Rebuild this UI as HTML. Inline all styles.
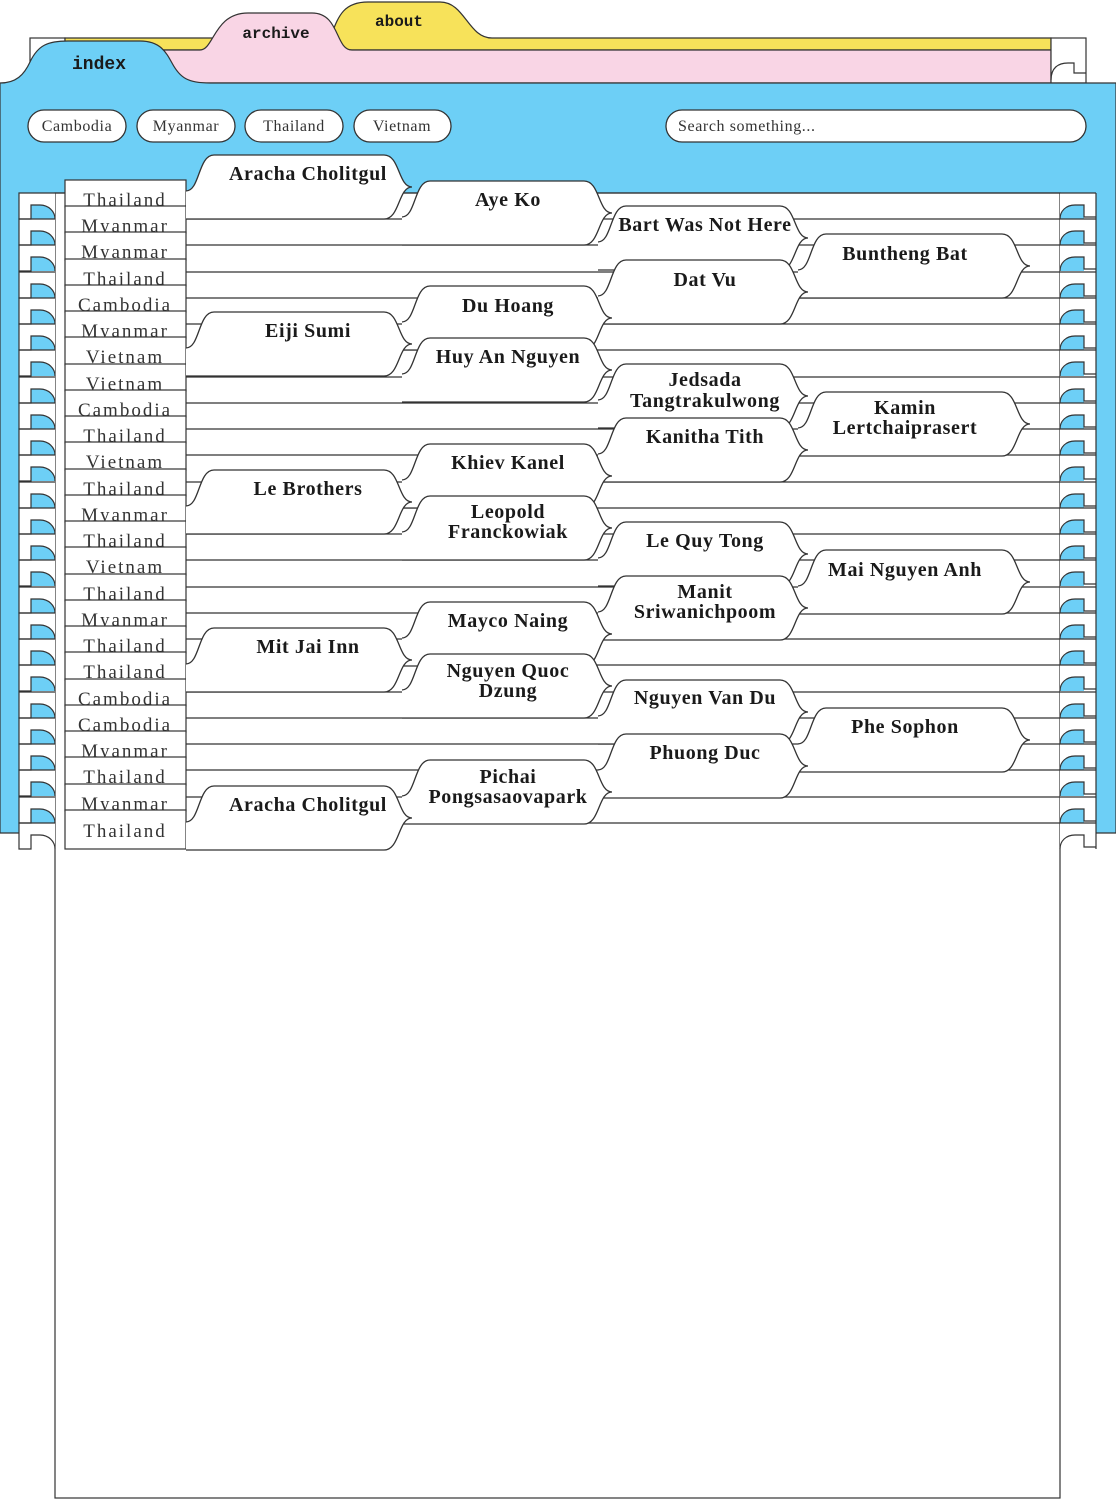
<!DOCTYPE html>
<html><head><meta charset="utf-8"><style>
html,body{margin:0;padding:0;background:#fff;}
svg{display:block;}
.n{font-family:"Liberation Serif",serif;font-weight:bold;font-size:20px;fill:#1a1a1a;text-anchor:middle;letter-spacing:0.6px;}
.c{font-family:"Liberation Serif",serif;font-size:19px;fill:#333;text-anchor:middle;letter-spacing:2px;}
.p{font-family:"Liberation Serif",serif;font-size:16px;fill:#333;text-anchor:middle;letter-spacing:0.6px;}
.t{font-family:"Liberation Mono",monospace;font-weight:bold;fill:#1a1a1a;text-anchor:middle;}
</style></head><body>
<svg width="1116" height="1500" viewBox="0 0 1116 1500" xmlns="http://www.w3.org/2000/svg">
<defs>
<g id="c1"><path d="M0,36 C14,36 12,0 28,0 H198 C214,0 212,32 226,32 C212,32 214,64 198,64 H0 Z" fill="#fff"/><path d="M0,36 C14,36 12,0 28,0 H198 C214,0 212,32 226,32 C212,32 214,64 198,64 H0" fill="none" stroke="#333" stroke-width="1.3"/></g>
<g id="c2"><path d="M0,36 C14,36 12,0 28,0 H182 C198,0 196,32 210,32 C196,32 198,64 182,64 H0 Z" fill="#fff"/><path d="M0,36 C14,36 12,0 28,0 H182 C198,0 196,32 210,32 C196,32 198,64 182,64 H0" fill="none" stroke="#333" stroke-width="1.3"/></g>
<g id="c4"><path d="M0,36 C14,36 12,0 28,0 H204 C220,0 218,32 232,32 C218,32 220,64 204,64 H0 Z" fill="#fff"/><path d="M0,36 C14,36 12,0 28,0 H204 C220,0 218,32 232,32 C218,32 220,64 204,64 H0" fill="none" stroke="#333" stroke-width="1.3"/></g>
<path id="hl" d="M55,0 H19 V26 H31 V12 H40 A15,14 0 0 1 55,26"/>
<path id="bl" d="M31,26 V12 H40 A15,14 0 0 1 55,26 Z"/>
<path id="hr" d="M1060,26 C1060,18 1066,12 1075,12 H1084 V24 H1096"/>
<path id="br" d="M1060,26 C1060,18 1066,12 1075,12 H1084 V26 Z"/>
</defs>

<rect x="30" y="38" width="35" height="45" fill="#fff" stroke="#333" stroke-width="1.2"/>
<path d="M65,50 V38 H330 C338,18 342,2 368,2 H440 C465,2 468,38 492,38 H1051 V50 Z" fill="#f7e25a" stroke="#333" stroke-width="1.2"/>
<path d="M160,83 V50 H200 C214,50 214,13 248,13 H312 C340,13 335,50 352,50 H1051 V83 Z" fill="#f9d5e5" stroke="#333" stroke-width="1.2"/>
<rect x="1051" y="38" width="35" height="45" fill="#fff" stroke="#333" stroke-width="1.2"/>
<path d="M1051,80 C1051,68 1058,63 1068,63 H1074 V73 H1086" fill="none" stroke="#333" stroke-width="1.2"/>
<path d="M0,83 C16,83 24,75 30,62 C38,45 48,41 68,41 H140 C160,41 166,52 172,63 C180,78 188,83 210,83 H1116 V833 H0 Z" fill="#6dcff6" stroke="#333" stroke-width="1.2"/>
<line x1="0" y1="833" x2="55" y2="833" stroke="#333" stroke-dasharray="1,1"/>
<line x1="1096" y1="833" x2="1116" y2="833" stroke="#333" stroke-dasharray="1,1"/>
<text class="t" x="99" y="69" font-size="18">index</text>
<text class="t" x="276" y="38" font-size="16">archive</text>
<text class="t" x="399" y="26" font-size="16">about</text>

<g fill="#fff" stroke="#333" stroke-width="1.3">
<rect x="28" y="110" width="98" height="32" rx="16"/>
<rect x="137" y="110" width="98" height="32" rx="16"/>
<rect x="245" y="110" width="98" height="32" rx="16"/>
<rect x="354" y="110" width="97" height="32" rx="16"/>
<rect x="666" y="110" width="420" height="32" rx="16"/>
</g>
<text class="p" x="77" y="131">Cambodia</text>
<text class="p" x="186" y="131">Myanmar</text>
<text class="p" x="294" y="131">Thailand</text>
<text class="p" x="402" y="131">Vietnam</text>
<text class="p" x="678" y="131" style="text-anchor:start">Search something...</text>

<rect x="55" y="193" width="1005" height="1305" fill="#fff" stroke="#333" stroke-width="1.2"/>
<rect x="19" y="193" width="36" height="656" fill="#fff"/>
<rect x="1060" y="193" width="36" height="656" fill="#fff"/>
<line x1="1096" y1="193" x2="1096" y2="849" stroke="#333" stroke-width="1.2"/>

<g fill="#6dcff6">
<use href="#bl" y="193"/><use href="#bl" y="219"/><use href="#bl" y="245"/><use href="#bl" y="272"/><use href="#bl" y="298"/><use href="#bl" y="324"/><use href="#bl" y="350"/><use href="#bl" y="377"/><use href="#bl" y="403"/><use href="#bl" y="429"/><use href="#bl" y="455"/><use href="#bl" y="482"/><use href="#bl" y="508"/><use href="#bl" y="534"/><use href="#bl" y="560"/><use href="#bl" y="587"/><use href="#bl" y="613"/><use href="#bl" y="639"/><use href="#bl" y="665"/><use href="#bl" y="692"/><use href="#bl" y="718"/><use href="#bl" y="744"/><use href="#bl" y="770"/><use href="#bl" y="797"/>
<use href="#br" y="193"/><use href="#br" y="219"/><use href="#br" y="245"/><use href="#br" y="272"/><use href="#br" y="298"/><use href="#br" y="324"/><use href="#br" y="350"/><use href="#br" y="377"/><use href="#br" y="403"/><use href="#br" y="429"/><use href="#br" y="455"/><use href="#br" y="482"/><use href="#br" y="508"/><use href="#br" y="534"/><use href="#br" y="560"/><use href="#br" y="587"/><use href="#br" y="613"/><use href="#br" y="639"/><use href="#br" y="665"/><use href="#br" y="692"/><use href="#br" y="718"/><use href="#br" y="744"/><use href="#br" y="770"/><use href="#br" y="797"/>
</g>
<g fill="none" stroke="#333" stroke-width="1.2">
<use href="#hl" y="193"/><use href="#hl" y="219"/><use href="#hl" y="245"/><use href="#hl" y="272"/><use href="#hl" y="298"/><use href="#hl" y="324"/><use href="#hl" y="350"/><use href="#hl" y="377"/><use href="#hl" y="403"/><use href="#hl" y="429"/><use href="#hl" y="455"/><use href="#hl" y="482"/><use href="#hl" y="508"/><use href="#hl" y="534"/><use href="#hl" y="560"/><use href="#hl" y="587"/><use href="#hl" y="613"/><use href="#hl" y="639"/><use href="#hl" y="665"/><use href="#hl" y="692"/><use href="#hl" y="718"/><use href="#hl" y="744"/><use href="#hl" y="770"/><use href="#hl" y="797"/><use href="#hl" y="823"/>
<use href="#hr" y="193"/><use href="#hr" y="219"/><use href="#hr" y="245"/><use href="#hr" y="272"/><use href="#hr" y="298"/><use href="#hr" y="324"/><use href="#hr" y="350"/><use href="#hr" y="377"/><use href="#hr" y="403"/><use href="#hr" y="429"/><use href="#hr" y="455"/><use href="#hr" y="482"/><use href="#hr" y="508"/><use href="#hr" y="534"/><use href="#hr" y="560"/><use href="#hr" y="587"/><use href="#hr" y="613"/><use href="#hr" y="639"/><use href="#hr" y="665"/><use href="#hr" y="692"/><use href="#hr" y="718"/><use href="#hr" y="744"/><use href="#hr" y="770"/><use href="#hr" y="797"/><use href="#hr" y="823"/>
</g>

<g stroke="#333" stroke-width="1.2">
<line x1="55" y1="193" x2="1096" y2="193"/><line x1="186" y1="219" x2="1096" y2="219"/><line x1="186" y1="245" x2="1096" y2="245"/><line x1="186" y1="272" x2="1096" y2="272"/><line x1="186" y1="298" x2="1096" y2="298"/><line x1="186" y1="324" x2="1096" y2="324"/><line x1="186" y1="350" x2="1096" y2="350"/><line x1="186" y1="377" x2="1096" y2="377"/><line x1="186" y1="403" x2="1096" y2="403"/><line x1="186" y1="429" x2="1096" y2="429"/><line x1="186" y1="455" x2="1096" y2="455"/><line x1="186" y1="482" x2="1096" y2="482"/><line x1="186" y1="508" x2="1096" y2="508"/><line x1="186" y1="534" x2="1096" y2="534"/><line x1="186" y1="560" x2="1096" y2="560"/><line x1="186" y1="587" x2="1096" y2="587"/><line x1="186" y1="613" x2="1096" y2="613"/><line x1="186" y1="639" x2="1096" y2="639"/><line x1="186" y1="665" x2="1096" y2="665"/><line x1="186" y1="692" x2="1096" y2="692"/><line x1="186" y1="718" x2="1096" y2="718"/><line x1="186" y1="744" x2="1096" y2="744"/><line x1="186" y1="770" x2="1096" y2="770"/><line x1="186" y1="797" x2="1096" y2="797"/><line x1="186" y1="823" x2="1096" y2="823"/>
</g>

<g stroke="#333" stroke-width="1.2" fill="#fff">
<rect x="65" y="180" width="121" height="27"/><text class="c" stroke="none" x="125" y="206">Thailand</text>
<rect x="65" y="206" width="121" height="27"/><text class="c" stroke="none" x="125" y="232">Myanmar</text>
<rect x="65" y="232" width="121" height="28"/><text class="c" stroke="none" x="125" y="258">Myanmar</text>
<rect x="65" y="259" width="121" height="27"/><text class="c" stroke="none" x="125" y="285">Thailand</text>
<rect x="65" y="285" width="121" height="27"/><text class="c" stroke="none" x="125" y="311">Cambodia</text>
<rect x="65" y="311" width="121" height="27"/><text class="c" stroke="none" x="125" y="337">Myanmar</text>
<rect x="65" y="337" width="121" height="28"/><text class="c" stroke="none" x="125" y="363">Vietnam</text>
<rect x="65" y="364" width="121" height="27"/><text class="c" stroke="none" x="125" y="390">Vietnam</text>
<rect x="65" y="390" width="121" height="27"/><text class="c" stroke="none" x="125" y="416">Cambodia</text>
<rect x="65" y="416" width="121" height="27"/><text class="c" stroke="none" x="125" y="442">Thailand</text>
<rect x="65" y="442" width="121" height="28"/><text class="c" stroke="none" x="125" y="468">Vietnam</text>
<rect x="65" y="469" width="121" height="27"/><text class="c" stroke="none" x="125" y="495">Thailand</text>
<rect x="65" y="495" width="121" height="27"/><text class="c" stroke="none" x="125" y="521">Myanmar</text>
<rect x="65" y="521" width="121" height="27"/><text class="c" stroke="none" x="125" y="547">Thailand</text>
<rect x="65" y="547" width="121" height="28"/><text class="c" stroke="none" x="125" y="573">Vietnam</text>
<rect x="65" y="574" width="121" height="27"/><text class="c" stroke="none" x="125" y="600">Thailand</text>
<rect x="65" y="600" width="121" height="27"/><text class="c" stroke="none" x="125" y="626">Myanmar</text>
<rect x="65" y="626" width="121" height="27"/><text class="c" stroke="none" x="125" y="652">Thailand</text>
<rect x="65" y="652" width="121" height="28"/><text class="c" stroke="none" x="125" y="678">Thailand</text>
<rect x="65" y="679" width="121" height="27"/><text class="c" stroke="none" x="125" y="705">Cambodia</text>
<rect x="65" y="705" width="121" height="27"/><text class="c" stroke="none" x="125" y="731">Cambodia</text>
<rect x="65" y="731" width="121" height="27"/><text class="c" stroke="none" x="125" y="757">Myanmar</text>
<rect x="65" y="757" width="121" height="28"/><text class="c" stroke="none" x="125" y="783">Thailand</text>
<rect x="65" y="784" width="121" height="27"/><text class="c" stroke="none" x="125" y="810">Myanmar</text>
<rect x="65" y="810" width="121" height="39"/><text class="c" stroke="none" x="125" y="837">Thailand</text>
</g>

<use href="#c1" x="186" y="155"/><text class="n" x="308" y="180">Aracha Cholitgul</text>
<use href="#c2" x="402" y="181"/><text class="n" x="508" y="206">Aye Ko</text>
<use href="#c2" x="598" y="206"/><text class="n" x="705" y="231">Bart Was Not Here</text>
<use href="#c4" x="798" y="234"/><text class="n" x="905" y="260">Buntheng Bat</text>
<use href="#c2" x="598" y="260"/><text class="n" x="705" y="286">Dat Vu</text>
<use href="#c2" x="402" y="286"/><text class="n" x="508" y="312">Du Hoang</text>
<use href="#c1" x="186" y="312"/><text class="n" x="308" y="337">Eiji Sumi</text>
<use href="#c2" x="402" y="338"/><text class="n" x="508" y="363">Huy An Nguyen</text>
<use href="#c2" x="598" y="364"/><text class="n" x="705" y="386">Jedsada</text><text class="n" x="705" y="407">Tangtrakulwong</text>
<use href="#c4" x="798" y="392"/><text class="n" x="905" y="414">Kamin</text><text class="n" x="905" y="434">Lertchaiprasert</text>
<use href="#c2" x="598" y="418"/><text class="n" x="705" y="443">Kanitha Tith</text>
<use href="#c2" x="402" y="444"/><text class="n" x="508" y="469">Khiev Kanel</text>
<use href="#c1" x="186" y="470"/><text class="n" x="308" y="495">Le Brothers</text>
<use href="#c2" x="402" y="496"/><text class="n" x="508" y="518">Leopold</text><text class="n" x="508" y="538">Franckowiak</text>
<use href="#c2" x="598" y="522"/><text class="n" x="705" y="547">Le Quy Tong</text>
<use href="#c4" x="798" y="550"/><text class="n" x="905" y="576">Mai Nguyen Anh</text>
<use href="#c2" x="598" y="576"/><text class="n" x="705" y="598">Manit</text><text class="n" x="705" y="618">Sriwanichpoom</text>
<use href="#c2" x="402" y="602"/><text class="n" x="508" y="627">Mayco Naing</text>
<use href="#c1" x="186" y="628"/><text class="n" x="308" y="653">Mit Jai Inn</text>
<use href="#c2" x="402" y="654"/><text class="n" x="508" y="677">Nguyen Quoc</text><text class="n" x="508" y="697">Dzung</text>
<use href="#c2" x="598" y="680"/><text class="n" x="705" y="704">Nguyen Van Du</text>
<use href="#c4" x="798" y="708"/><text class="n" x="905" y="733">Phe Sophon</text>
<use href="#c2" x="598" y="734"/><text class="n" x="705" y="759">Phuong Duc</text>
<use href="#c2" x="402" y="760"/><text class="n" x="508" y="783">Pichai</text><text class="n" x="508" y="803">Pongsasaovapark</text>
<use href="#c1" x="186" y="786"/><text class="n" x="308" y="811">Aracha Cholitgul</text>
</svg>
</body></html>
